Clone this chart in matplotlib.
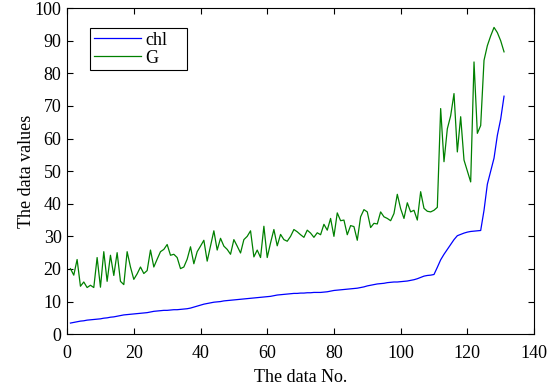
import matplotlib
matplotlib.use("Agg")
import matplotlib.pyplot as plt
import numpy as np

x_idx = list(range(1, 132))

chl = [3.4, 3.6, 3.8, 4.0, 4.1, 4.3, 4.4, 4.5, 4.6, 4.7,
       4.9, 5.0, 5.2, 5.3, 5.5, 5.7, 5.9, 6.0, 6.1, 6.2,
       6.3, 6.4, 6.5, 6.6, 6.8, 7.0, 7.1, 7.2, 7.3, 7.3,
       7.4, 7.5, 7.5, 7.6, 7.7, 7.8, 8.0, 8.3, 8.6, 8.9,
       9.2, 9.4, 9.6, 9.8, 9.9, 10.0, 10.2, 10.3, 10.4, 10.5,
       10.6, 10.7, 10.8, 10.9, 11.0, 11.1, 11.2, 11.3, 11.4, 11.5,
       11.6, 11.8, 12.0, 12.1, 12.2, 12.3, 12.4, 12.5, 12.5, 12.6,
       12.6, 12.7, 12.7, 12.8, 12.8, 12.8, 12.9, 13.0, 13.2, 13.4,
       13.5, 13.6, 13.7, 13.8, 13.9, 14.0, 14.1, 14.3, 14.5, 14.8,
       15.0, 15.2, 15.4, 15.5, 15.6, 15.8, 15.9, 16.0, 16.0, 16.1,
       16.2, 16.3, 16.5, 16.7, 17.0, 17.4, 17.8, 18.0, 18.1, 18.3,
       20.5, 22.8, 24.5, 26.0, 27.5, 29.0, 30.2, 30.6, 31.0, 31.3,
       31.5, 31.6, 31.7, 31.8, 38.0, 46.0, 50.0, 54.0, 61.0, 66.0, 73.0]

G = [20.1, 18.1, 22.9, 14.7, 16.0, 14.3, 15.0, 14.3, 23.5, 14.4,
     25.3, 16.2, 24.2, 18.0, 25.0, 16.2, 15.2, 25.3, 20.6, 16.8,
     18.5, 20.6, 18.6, 19.5, 25.8, 20.6, 23.0, 25.3, 26.0, 27.5,
     24.2, 24.5, 23.5, 20.1, 20.6, 23.0, 26.8, 21.6, 25.3, 27.0,
     28.8, 22.4, 27.0, 31.7, 25.8, 29.4, 27.0, 26.0, 24.5, 29.0,
     27.0, 24.9, 29.0, 30.0, 31.7, 23.7, 25.8, 23.5, 33.1, 23.5,
     28.0, 32.1, 27.1, 30.6, 29.0, 28.5, 30.0, 32.1, 31.4, 30.5,
     29.7, 31.9, 31.0, 29.7, 31.1, 30.5, 33.7, 31.9, 35.5, 30.0,
     37.2, 34.8, 35.0, 30.5, 33.3, 33.0, 28.8, 36.0, 38.2, 37.5,
     32.7, 34.0, 33.8, 37.5, 36.0, 35.5, 34.8, 37.0, 42.9, 38.5,
     35.5, 40.3, 37.5, 38.0, 35.0, 43.7, 38.6, 37.7, 37.5, 38.0,
     38.9, 69.2, 52.9, 63.0, 67.0, 73.8, 55.9, 66.7, 53.4, 50.0,
     46.7, 83.5, 61.6, 64.0, 84.0, 88.5, 91.5, 94.1, 92.5, 90.0, 86.6]

x_ticks = [0, 20, 40, 60, 80, 100, 120, 140]
y_ticks = [0, 10, 20, 30, 40, 50, 60, 70, 80, 90, 100]

plt.rcParams['font.family'] = ['Liberation Serif', 'DejaVu Serif']

fig = plt.figure(figsize=(5.5, 3.89), dpi=100)
ax = fig.add_axes([0.122, 0.141, 0.849, 0.838])

ax.plot(x_idx, chl, color=(0.0, 0.0, 1.0), lw=0.9, label='chl')
ax.plot(x_idx, G, color=(0.0, 0.5, 0.0), lw=0.9, label='G')

ax.set_xlim(0, 140)
ax.set_ylim(0, 100)
ax.set_xticks(x_ticks)
ax.set_yticks(y_ticks)
ax.tick_params(direction='in', top=True, right=True, length=4, width=0.8,
               labelsize=13)
ax.tick_params(axis='x', pad=8)
ax.tick_params(axis='y', pad=4)
for s in ax.spines.values():
    s.set_linewidth(0.8)

ax.set_xlabel('The data No.', fontsize=13, labelpad=5)
ax.set_ylabel('The data values', fontsize=13, labelpad=0)

leg = ax.legend(loc='upper left', bbox_to_anchor=(0.049, 0.939, 0.208, 0.0),
                mode='expand', borderaxespad=0, fontsize=13, fancybox=False,
                framealpha=1, edgecolor='black', handlelength=2.6,
                handletextpad=0.25, labelspacing=0.05, borderpad=0.2)
leg.get_frame().set_linewidth(0.8)

fig.savefig('out.png', dpi=100)
